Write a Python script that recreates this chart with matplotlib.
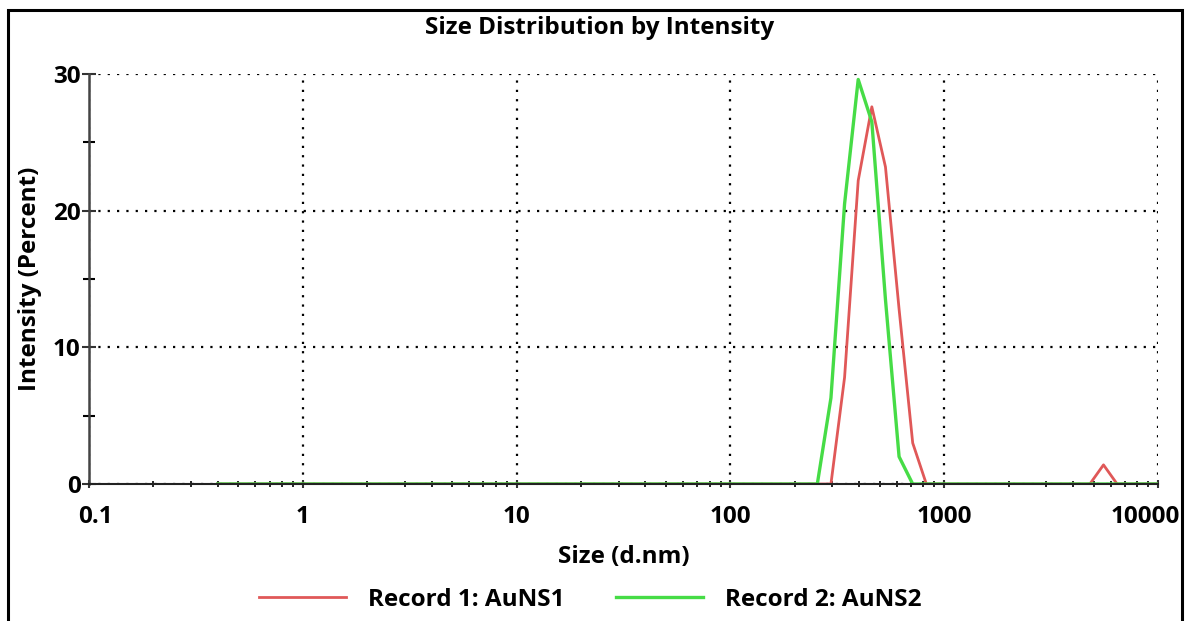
import matplotlib
matplotlib.use('Agg')
import matplotlib.pyplot as plt
import matplotlib.transforms as mtransforms
from matplotlib.patches import Rectangle
from matplotlib.ticker import LogLocator, FixedLocator, FixedFormatter, NullFormatter
import numpy as np

plt.rcParams['font.family'] = ['Open Sans', 'DejaVu Sans']
plt.rcParams['font.weight'] = 'bold'

# Zetasizer size bins (d.nm)
size_bins = [0.4, 0.4632, 0.5365, 0.6213, 0.7195, 0.8332, 0.9649, 1.117, 1.294, 1.499,
             1.736, 2.010, 2.328, 2.696, 3.122, 3.615, 4.187, 4.849, 5.615, 6.503,
             7.531, 8.721, 10.10, 11.70, 13.54, 15.69, 18.17, 21.04, 24.36, 28.21,
             32.67, 37.84, 43.82, 50.75, 58.77, 68.06, 78.82, 91.28, 105.7, 122.4,
             141.8, 164.2, 190.1, 220.2, 255.0, 295.3, 342.0, 396.1, 458.7, 531.2,
             615.1, 712.4, 825.0, 955.4, 1106, 1281, 1484, 1718, 1990, 2305,
             2669, 3091, 3580, 4145, 4801, 5560, 6439, 7456, 8635, 10000]

# intensity (percent) per bin
peaks_auns1 = {295.3: 0.0, 342.0: 7.8, 396.1: 22.2, 458.7: 27.6, 531.2: 23.2,
               615.1: 12.8, 712.4: 3.0, 825.0: 0.0, 4801: 0.0, 5560: 1.4, 6439: 0.0}
peaks_auns2 = {255.0: 0.0, 295.3: 6.3, 342.0: 20.5, 396.1: 29.6, 458.7: 26.5,
               531.2: 13.5, 615.1: 2.0, 712.4: 0.0}
intensity_auns1 = [peaks_auns1.get(s, 0.0) for s in size_bins]
intensity_auns2 = [peaks_auns2.get(s, 0.0) for s in size_bins]

x_ticks = [0.1, 1, 10, 100, 1000, 10000]
x_labels = ['0.1', '1', '10', '100', '1000', '10000']

fs = 17.5

fig = plt.figure(figsize=(11.86, 6.21), dpi=100)
ax = fig.add_axes([89 / 1186, 1 - 484 / 621, (1158 - 89) / 1186, (484 - 74) / 621])

red = '#e05858'
green = '#46dc46'
ax.plot(size_bins, intensity_auns1, color=red, lw=2.0, label='Record 1: AuNS1', zorder=2)
ax.plot(size_bins, intensity_auns2, color=green, lw=2.4, label='Record 2: AuNS2', zorder=2)

ax.set_xscale('log')
ax.set_xlim(0.1, 10000)
ax.set_ylim(0, 30)

ax.xaxis.set_major_locator(FixedLocator(x_ticks))
ax.xaxis.set_major_formatter(FixedFormatter(x_labels))
ax.xaxis.set_minor_locator(LogLocator(base=10, subs=np.arange(2, 10), numticks=20))
ax.xaxis.set_minor_formatter(NullFormatter())
ax.set_yticks([0, 10, 20, 30])
ax.set_yticks([5, 15, 25], minor=True)

ax.tick_params(axis='both', which='major', labelsize=fs, colors='#333333', labelcolor='black')
ax.tick_params(axis='y', which='major', direction='inout', length=10, width=1.5, pad=1)
ax.tick_params(axis='y', which='minor', direction='inout', length=9, width=1.5)
ax.tick_params(axis='x', which='major', direction='inout', length=6, width=1.5, pad=12)
ax.tick_params(axis='x', which='minor', direction='inout', length=5, width=1.2)

# nudge the end labels like the original
fig.canvas.draw()
xlabels = ax.get_xticklabels()
xlabels[0].set_transform(xlabels[0].get_transform() +
                         mtransforms.ScaledTranslation(6 / 100, 0, fig.dpi_scale_trans))
xlabels[-1].set_transform(xlabels[-1].get_transform() +
                          mtransforms.ScaledTranslation(-13 / 100, 0, fig.dpi_scale_trans))

for side in ['top', 'right']:
    ax.spines[side].set_visible(False)
ax.spines['left'].set_color('#444444')
ax.spines['left'].set_linewidth(1.8)
ax.spines['bottom'].set_color('#222222')
ax.spines['bottom'].set_linewidth(1.5)
ax.spines['bottom'].set_zorder(3)

ax.grid(True, which='major', color='black', linestyle=(0, (1, 3.2)), linewidth=1.6)
ax.set_axisbelow(True)

fig.suptitle('Size Distribution by Intensity', x=600 / 1186, y=1 - 28 / 621, va='center',
             fontsize=fs, fontweight='bold')
ax.set_xlabel('Size (d.nm)', fontsize=fs, fontweight='bold', labelpad=12)
ax.set_ylabel('Intensity (Percent)', fontsize=fs, fontweight='bold', labelpad=8)

fig.legend(loc='center', bbox_to_anchor=(0.4975, 1 - 600 / 621), ncol=2, frameon=False,
           fontsize=fs, handlelength=3.6, handletextpad=0.9, columnspacing=2.1)

# outer frame around the whole picture
fig.patches.append(Rectangle((8 / 1186, -0.05), (1182 - 8) / 1186, 1.05 - 10 / 621,
                             transform=fig.transFigure, fill=False, edgecolor='black',
                             linewidth=2.2, clip_on=False))

fig.savefig('out.png', dpi=100)
